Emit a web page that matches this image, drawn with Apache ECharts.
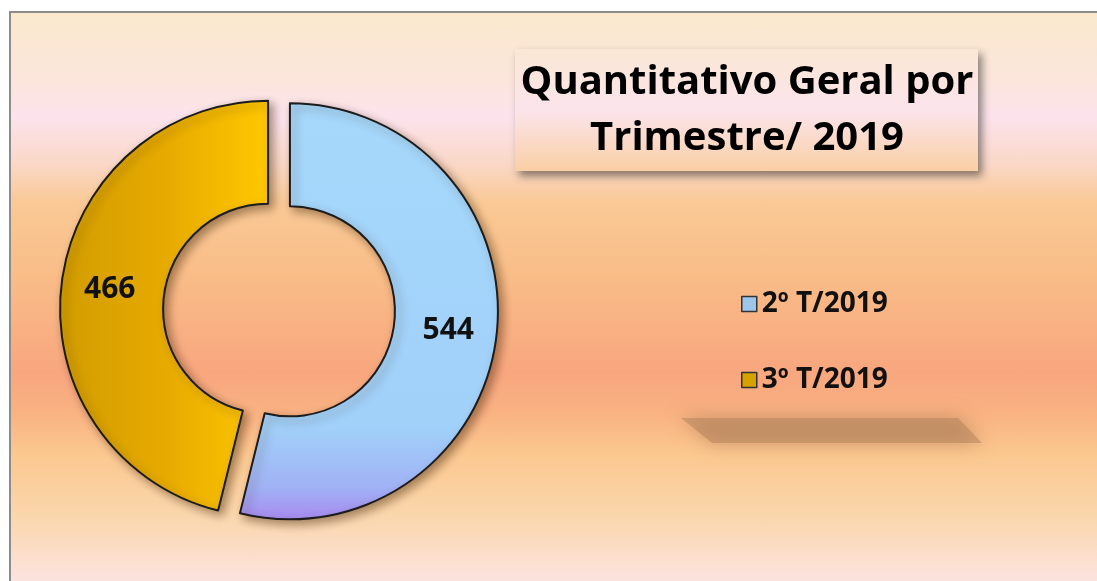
<!DOCTYPE html>
<html>
<head>
<meta charset="utf-8">
<script src="https://cdn.jsdelivr.net/npm/echarts@6/dist/echarts.min.js"></script>
<style>
html, body { margin: 0; padding: 0; background: #fff; overflow: hidden; }
#frame {
    position: absolute; left: 9px; top: 11px; width: 1100px; height: 580px;
    border-left: 2px solid #8c8c8c; border-top: 2px solid #8c8c8c;
    background: linear-gradient(to bottom, #fae8cc 0px, #fbe5dd 70px, #fce3ec 104px, #fad8c8 150px,
        #f9c995 190px, #f9bd88 260px, #f8a67e 360px, #f9b282 400px, #fbc78f 440px, #fad6aa 500px, #fce3e0 570px);
}
#main { position: absolute; left: 0; top: 0; width: 1097px; height: 581px; }
</style>
</head>
<body>
<div id="frame"></div>
<div id="main"></div>
<script>
// dados
const categorias = ['2º T/2019', '3º T/2019'];
const valores = [544, 466];
const titulo = 'Quantitativo Geral por\nTrimestre/ 2019';

const fonte = 'Open Sans';

let chart = echarts.init(document.getElementById('main'));

let cores = [
    new echarts.graphic.LinearGradient(0, 0, 0, 1, [
        { offset: 0, color: '#a6d8fb' },
        { offset: 0.78, color: '#a1d0f9' },
        { offset: 0.92, color: '#a0b2f5' },
        { offset: 1, color: '#a88af0' }
    ]),
    new echarts.graphic.LinearGradient(0, 0, 1, 0, [
        { offset: 0, color: '#d29d00' },
        { offset: 0.5, color: '#e6aa00' },
        { offset: 1, color: '#ffc800' }
    ])
];
let coresLegenda = ['#9cc6ec', '#d6a200'];

let option = {
    animation: false,
    legend: {
        orient: 'vertical',
        left: 736,
        top: 285,
        itemGap: 48,
        itemWidth: 15,
        itemHeight: 15,
        icon: 'rect',
        selectedMode: false,
        data: categorias.map((c, i) => ({
            name: c,
            itemStyle: { color: coresLegenda[i], borderColor: '#333', borderWidth: 1.5 }
        })),
        textStyle: { fontSize: 28, fontWeight: 'bold', color: '#111', fontFamily: fonte }
    },
    graphic: [
        {
            type: 'polygon',
            shape: { points: [[681, 418], [958, 418], [982, 443], [712, 443]] },
            style: { fill: 'rgba(185,135,95,0.6)', shadowBlur: 18, shadowColor: 'rgba(170,120,80,1)' },
            z: -1
        },
        {
            type: 'rect',
            shape: { x: 515, y: 49, width: 463, height: 122 },
            style: {
                fill: new echarts.graphic.LinearGradient(0, 0, 0, 1, [
                    { offset: 0, color: '#fbe7d4' },
                    { offset: 0.5, color: '#fce4ec' },
                    { offset: 1, color: '#f9cfa4' }
                ]),
                shadowBlur: 8, shadowOffsetX: 4, shadowOffsetY: 5, shadowColor: 'rgba(0,0,0,0.45)'
            }
        },
        {
            type: 'text',
            style: {
                text: titulo, x: 747, y: 111,
                textAlign: 'center', textVerticalAlign: 'middle',
                fontSize: 40, fontWeight: 'bold', fontFamily: fonte,
                lineHeight: 56, fill: '#000'
            }
        }
    ],
    series: [{
        type: 'pie',
        center: [279, 310],
        radius: [105, 208],
        startAngle: 90,
        clockwise: true,
        selectedMode: 'multiple',
        selectedOffset: 11,
        avoidLabelOverlap: false,
        emphasis: { disabled: true },
        label: {
            show: true,
            position: 'inside',
            formatter: '{c}',
            fontSize: 30,
            fontWeight: 'bold',
            fontFamily: fonte,
            color: '#111',
            textBorderWidth: 0
        },
        labelLine: { show: false },
        itemStyle: {
            borderColor: '#1c1c1c',
            borderWidth: 2,
            shadowBlur: 10,
            shadowColor: 'rgba(60,30,0,0.45)',
            shadowOffsetX: 4,
            shadowOffsetY: 4
        },
        data: valores.map((v, i) => ({
            name: categorias[i],
            value: v,
            selected: true,
            itemStyle: { color: cores[i] }
        }))
    }]
};

chart.setOption(option);
</script>
</body>
</html>
